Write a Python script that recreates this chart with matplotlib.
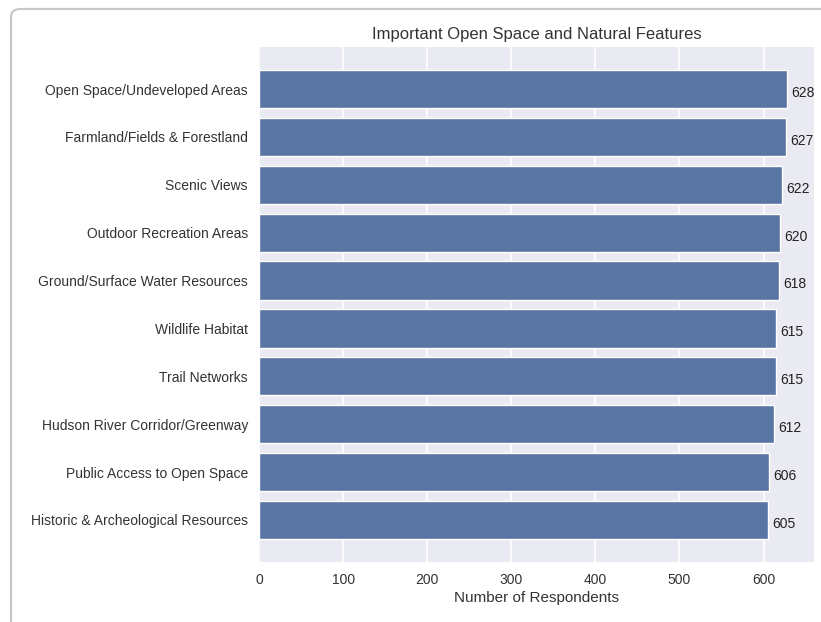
import matplotlib
matplotlib.use("Agg")
import matplotlib.pyplot as plt
from matplotlib.patches import FancyBboxPatch
import seaborn as sns

features = [
    "Open Space/Undeveloped Areas",
    "Farmland/Fields & Forestland",
    "Scenic Views",
    "Outdoor Recreation Areas",
    "Ground/Surface Water Resources",
    "Wildlife Habitat",
    "Trail Networks",
    "Hudson River Corridor/Greenway",
    "Public Access to Open Space",
    "Historic & Archeological Resources",
]
respondents = [628, 627, 622, 620, 618, 615, 615, 612, 606, 605]
x_ticks = [0, 100, 200, 300, 400, 500, 600]

sns.set_style("darkgrid")
plt.rcParams["font.family"] = ["Liberation Sans", "DejaVu Sans"]

W, H = 821, 622
fig = plt.figure(figsize=(W / 100, H / 100), dpi=100)

# card outline behind the chart
card = FancyBboxPatch((11 / W, -0.05), 1.0, 1.0 - 9 / H + 0.05,
                      boxstyle="round,pad=0,rounding_size=0.012",
                      transform=fig.transFigure, facecolor="white",
                      edgecolor="#c8c8c8", linewidth=1.6, zorder=-5)
fig.patches.append(card)

ax = fig.add_axes([259 / W, 1 - 562 / H, (814 - 259) / W, (562 - 47) / H])
ax.set_zorder(1)
ax.set_facecolor("#eaeaf2")

ypos = list(range(len(features)))
ax.barh(ypos, respondents, height=0.8, color="#5875a4", zorder=2)
for y, v in zip(ypos, respondents):
    ax.text(v + 5, y + 0.08, str(v), va="center", ha="left",
            fontsize=10, color="#222222")

ax.set_yticks(ypos)
ax.set_yticklabels(features)
ax.set_ylim(len(features) - 1 + 0.88, -0.88)
ax.set_xlim(0, 660)
ax.set_xticks(x_ticks)
ax.grid(axis="y", visible=False)
ax.grid(axis="x", color="white", linewidth=1.2)
ax.tick_params(axis="both", labelsize=10, colors="#333333", length=0, pad=8)
ax.set_xlabel("Number of Respondents", fontsize=11, color="#333333", labelpad=3)
ax.set_title("Important Open Space and Natural Features",
             fontsize=12, color="#333333", pad=6)
for s in ax.spines.values():
    s.set_visible(False)

fig.savefig("out.png", dpi=100)
